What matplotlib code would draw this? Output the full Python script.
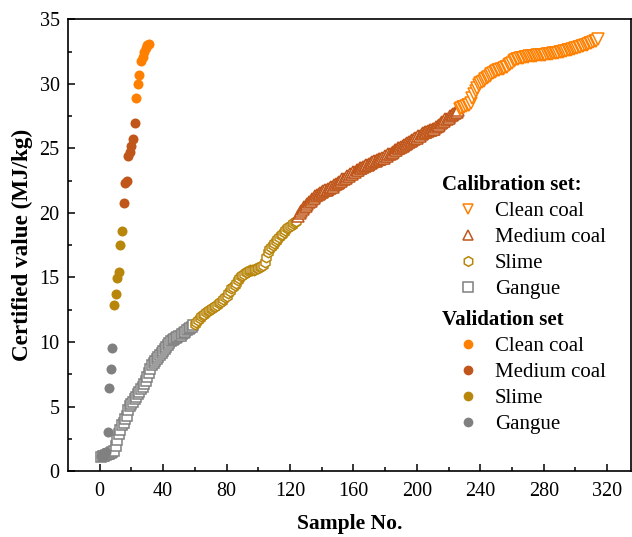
import matplotlib
matplotlib.use("Agg")
import matplotlib.pyplot as plt
import numpy as np
from matplotlib.lines import Line2D

plt.rcParams["font.family"] = ["Liberation Serif", "DejaVu Serif"]

# Calibration set, sorted by certified value (MJ/kg); sample numbers run 1..314
cal_gangue = [
    1.10, 1.15, 1.20, 1.25, 1.30, 1.35, 1.40, 1.45, 1.55, 1.95,
    2.40, 2.90, 3.20, 3.55, 3.75, 4.00, 4.25, 4.70, 5.05, 5.20,
    5.35, 5.55, 5.75, 5.95, 6.15, 6.35, 6.55, 6.75, 6.95, 7.30,
    7.60, 7.90, 8.20, 8.40, 8.55, 8.70, 8.85, 9.00, 9.15, 9.30,
    9.45, 9.60, 9.75, 9.90, 10.05, 10.15, 10.25, 10.30, 10.40, 10.45,
    10.50, 10.60, 10.70, 10.80, 10.90, 11.00, 11.10, 11.20, 11.30,
]
cal_slime = [
    11.40, 11.55, 11.70, 11.85, 12.00, 12.10, 12.20, 12.30, 12.40, 12.45,
    12.55, 12.60, 12.70, 12.80, 12.90, 13.00, 13.10, 13.20, 13.30, 13.45,
    13.60, 13.80, 13.95, 14.15, 14.30, 14.45, 14.60, 14.80, 14.95, 15.10,
    15.20, 15.30, 15.40, 15.45, 15.50, 15.55, 15.60, 15.62, 15.65, 15.70,
    15.75, 15.80, 15.90, 16.00, 16.20, 16.60, 17.00, 17.20, 17.40, 17.55,
    17.70, 17.85, 18.00, 18.15, 18.30, 18.40, 18.50, 18.65, 18.80, 18.90,
    19.00, 19.10, 19.20, 19.30, 19.40,
]
cal_medium = [
    19.80, 20.00, 20.15, 20.30, 20.45, 20.55, 20.70, 20.85, 20.95, 21.05,
    21.20, 21.30, 21.40, 21.50, 21.55, 21.60, 21.70, 21.75, 21.80, 21.85,
    21.95, 22.00, 22.05, 22.15, 22.25, 22.30, 22.40, 22.50, 22.60, 22.65,
    22.75, 22.85, 22.90, 23.00, 23.05, 23.15, 23.20, 23.30, 23.35, 23.45,
    23.50, 23.55, 23.65, 23.70, 23.75, 23.80, 23.85, 23.95, 24.00, 24.05,
    24.10, 24.15, 24.20, 24.25, 24.30, 24.40, 24.45, 24.55, 24.60, 24.65,
    24.75, 24.85, 24.90, 25.00, 25.05, 25.10, 25.20, 25.25, 25.35, 25.40,
    25.50, 25.55, 25.65, 25.70, 25.80, 25.85, 25.95, 26.00, 26.10, 26.20,
    26.25, 26.30, 26.35, 26.40, 26.45, 26.50, 26.55, 26.65, 26.75, 26.85,
    26.95, 27.05, 27.15, 27.25, 27.30, 27.40, 27.50, 27.60, 27.65, 27.75,
    27.85, 27.95,
]
cal_clean = [
    28.10, 28.15, 28.20, 28.25, 28.30, 28.35, 28.40, 28.50, 28.90, 29.20,
    29.45, 29.70, 29.90, 30.05, 30.15, 30.25, 30.35, 30.45, 30.55, 30.65,
    30.75, 30.85, 30.90, 31.00, 31.05, 31.10, 31.15, 31.20, 31.25, 31.30,
    31.35, 31.45, 31.55, 31.65, 31.75, 31.85, 31.90, 31.95, 32.00, 32.02,
    32.05, 32.08, 32.10, 32.12, 32.14, 32.15, 32.17, 32.18, 32.20, 32.21,
    32.22, 32.24, 32.25, 32.27, 32.28, 32.30, 32.31, 32.33, 32.35, 32.37,
    32.39, 32.41, 32.43, 32.45, 32.48, 32.50, 32.53, 32.56, 32.60, 32.63,
    32.66, 32.70, 32.74, 32.78, 32.82, 32.86, 32.90, 32.94, 32.98, 33.02,
    33.06, 33.10, 33.15, 33.20, 33.25, 33.30, 33.35, 33.45,
]

# Validation set, sorted; sample numbers run 1..31
val_gangue = [1.15, 1.25, 1.35, 1.45, 3.0, 6.4, 7.9, 9.5]
val_slime = [12.85, 13.7, 14.95, 15.45, 17.5, 18.6]
val_medium = [20.8, 22.3, 22.5, 24.4, 24.7, 25.2, 25.7, 27.0]
val_clean = [28.9, 30.0, 30.7, 31.8, 32.1, 32.5, 32.8, 33.0, 33.1]

classes = ["Clean coal", "Medium coal", "Slime", "Gangue"]
colors = {"Clean coal": "#FF8000", "Medium coal": "#C0561A",
          "Slime": "#B8860B", "Gangue": "#808080"}
cal_markers = {"Clean coal": "v", "Medium coal": "^", "Slime": "h", "Gangue": "s"}
cal_sizes = {"Clean coal": 8, "Medium coal": 8, "Slime": 7.5, "Gangue": 6.8}


def numbered(groups):
    # consecutive sample numbers across the groups, in the order given
    out, start = [], 1
    for g in groups:
        out.append(np.arange(start, start + len(g)))
        start += len(g)
    return out


cal_order = [cal_gangue, cal_slime, cal_medium, cal_clean]
val_order = [val_gangue, val_slime, val_medium, val_clean]
cal_x = numbered(cal_order)
val_x = numbered(val_order)
order_names = ["Gangue", "Slime", "Medium coal", "Clean coal"]

fig = plt.figure(figsize=(6.32, 5.37), dpi=100)
ax = fig.add_axes([0.1076, 0.1229, 0.8908, 0.8408])

for name, xs, ys in zip(order_names, cal_x, cal_order):
    ax.plot(xs, ys, linestyle="none", marker=cal_markers[name], ms=cal_sizes[name],
            mfc="white", mec=colors[name], mew=1.1)

for name, xs, ys in zip(order_names, val_x, val_order):
    ax.plot(xs, ys, linestyle="none", marker="o", ms=7.2, mfc=colors[name],
            mec=colors[name], mew=0)

ax.set_xlim(-20, 335)
ax.set_ylim(0, 35)
ax.set_xticks(np.arange(0, 321, 40))
ax.set_xticks(np.arange(20, 321, 40), minor=True)
ax.set_yticks(np.arange(0, 36, 5))
ax.set_yticks(np.arange(2.5, 35, 5), minor=True)
ax.tick_params(which="both", direction="in", width=1.1, labelsize=14.5)
ax.tick_params(which="major", length=5)
ax.tick_params(which="minor", length=3)
ax.tick_params(axis="x", pad=8)
ax.tick_params(axis="y", pad=6)
for s in ax.spines.values():
    s.set_linewidth(1.2)

ax.set_xlabel("Sample No.", fontsize=15.5, fontweight="bold", labelpad=9)
ax.set_ylabel("Certified value (MJ/kg)", fontsize=16.7, fontweight="bold", labelpad=5)

cal_handles = [Line2D([], [], linestyle="none", marker=cal_markers[c], ms=7,
                      mfc="white", mec=colors[c], mew=1.1) for c in classes]
val_handles = [Line2D([], [], linestyle="none", marker="o", ms=7,
                      mfc=colors[c], mec=colors[c], mew=0) for c in classes]

leg_kw = dict(frameon=False, fontsize=15, alignment="left", loc="upper left",
              borderpad=0, borderaxespad=0, handlelength=2.55, handletextpad=0.0,
              labelspacing=0.31, title_fontproperties={"weight": "bold", "size": 15})
leg1 = ax.legend(cal_handles, classes, title="Calibration set:",
                 bbox_to_anchor=(0.664, 0.656), **leg_kw)
ax.add_artist(leg1)
ax.legend(val_handles, classes, title="Validation set",
          bbox_to_anchor=(0.664, 0.357), **leg_kw)

fig.savefig("out.png", dpi=100)
